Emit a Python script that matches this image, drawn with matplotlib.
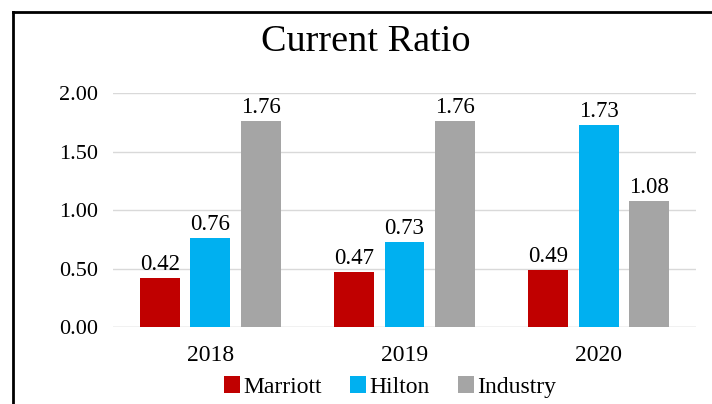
import numpy as np
import matplotlib.pyplot as plt
from matplotlib.lines import Line2D

plt.rcParams['font.family'] = ['Liberation Serif', 'DejaVu Serif']

years = ['2018', '2019', '2020']
marriott = [0.42, 0.47, 0.49]
hilton = [0.76, 0.73, 1.73]
industry = [1.76, 1.76, 1.08]

series = [('Marriott', marriott, '#C00000'),
          ('Hilton', hilton, '#00B0F0'),
          ('Industry', industry, '#A5A5A5')]

W, H = 712, 404
fig = plt.figure(figsize=(W / 100, H / 100), dpi=100)
# plot area in pixels: x 113..696, y 93..327
ax = fig.add_axes([113 / W, 1 - 327 / H, (696 - 113) / W, (327 - 93) / H])

x = np.arange(len(years))
bw = 0.205
step = 0.26
for i, (name, vals, col) in enumerate(series):
    bars = ax.bar(x + (i - 1) * step, vals, bw, color=col, label=name, zorder=3)
    for b, v in zip(bars, vals):
        ax.text(b.get_x() + b.get_width() / 2, v + 0.025, f'{v:.2f}',
                ha='center', va='bottom', fontsize=16.5)

ax.set_xlim(-0.5, 2.5)
ax.set_ylim(0, 2.0)
ax.set_yticks([0, 0.5, 1.0, 1.5, 2.0])
ax.set_yticklabels([f'{t:.2f}' for t in [0, 0.5, 1.0, 1.5, 2.0]], fontsize=16)
ax.set_xticks(x)
ax.set_xticklabels(years, fontsize=17)
ax.tick_params(length=0)
ax.tick_params(axis='x', pad=13)
ax.tick_params(axis='y', pad=11)
ax.grid(axis='y', color='#D9D9D9', linewidth=1, zorder=0)
for s in ax.spines.values():
    s.set_visible(False)
ax.axhline(0, color='#D9D9D9', linewidth=1, zorder=1)

fig.text(366 / W, 1 - 42 / H, 'Current Ratio', ha='center', va='center', fontsize=27.5)

fig.legend(loc='center', bbox_to_anchor=(390 / W, 1 - 387 / H), ncol=3,
           frameon=False, fontsize=17, handlelength=0.7, handleheight=0.7,
           columnspacing=1.2, handletextpad=0.12)

# outer border (left and top edges)
fig.add_artist(Line2D([13 / W, 13 / W], [0, 1 - 12 / H], color='black', linewidth=2))
fig.add_artist(Line2D([13 / W, 1], [1 - 12 / H, 1 - 12 / H], color='black', linewidth=2))

fig.savefig('out.png', dpi=100)
